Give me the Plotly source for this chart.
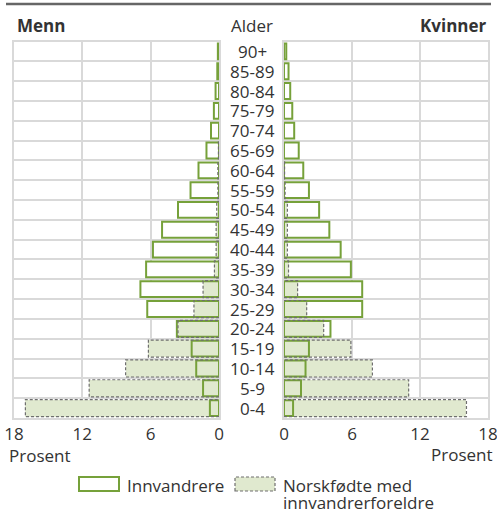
import plotly.graph_objects as go

W, H = 497, 510

# Data (percent), ordered from youngest to oldest
ages = ["0-4", "5-9", "10-14", "15-19", "20-24", "25-29", "30-34", "35-39",
        "40-44", "45-49", "50-54", "55-59", "60-64", "65-69", "70-74",
        "75-79", "80-84", "85-89", "90+"]
menn_innv = [0.8, 1.4, 2.0, 2.4, 3.7, 6.3, 6.9, 6.4, 5.8, 5.0, 3.6, 2.5,
             1.8, 1.1, 0.7, 0.45, 0.3, 0.15, 0.1]
menn_norsk = [17.0, 11.4, 8.2, 6.2, 3.6, 2.2, 1.4, 0.4, 0.25, 0.25, 0.2,
              0.1, 0.1, 0.05, 0.0, 0.0, 0.0, 0.0, 0.0]
kv_innv = [0.8, 1.5, 1.9, 2.2, 4.1, 6.9, 6.9, 5.9, 5.0, 4.0, 3.1, 2.2,
           1.7, 1.3, 0.9, 0.73, 0.55, 0.4, 0.2]
kv_norsk = [16.1, 11.0, 7.8, 5.9, 3.5, 2.0, 1.2, 0.4, 0.3, 0.3, 0.3, 0.1,
            0.05, 0.0, 0.0, 0.0, 0.0, 0.0, 0.0]
x_ticks = [0, 6, 12, 18]

GREEN = "#76a13a"
LIGHT = "#e0e9cf"
DASH_C = "#6f6f6f"
GRID = "#d9d9d9"
TXT = "#333333"
FONT = "Open Sans"

ypos = list(range(len(ages)))
W_INNV = 0.80
W_NORSK = 0.86


def px_x(p):
    return p / W


def px_y(p):
    return 1 - p / H


def dash_outline(vals, half):
    xs, ys = [], []
    for y, v in zip(ypos, vals):
        if v <= 0:
            continue
        xs += [0, v, v, 0, None]
        ys += [y - half, y - half, y + half, y + half, None]
    return xs, ys


fig = go.Figure()

for (innv, norsk, xa, ya) in [(menn_innv, menn_norsk, "x", "y"),
                              (kv_innv, kv_norsk, "x2", "y2")]:
    fig.add_trace(go.Bar(x=innv, y=ypos, orientation="h", width=W_INNV,
                         marker=dict(color="white", line=dict(width=0)),
                         xaxis=xa, yaxis=ya, showlegend=False, hoverinfo="skip"))
    fig.add_trace(go.Bar(x=norsk, y=ypos, orientation="h", width=W_NORSK,
                         marker=dict(color=LIGHT, line=dict(width=0)),
                         xaxis=xa, yaxis=ya, showlegend=False, hoverinfo="skip"))
    dx, dy = dash_outline(norsk, W_NORSK / 2)
    fig.add_trace(go.Scatter(x=dx, y=dy, mode="lines",
                             line=dict(color=DASH_C, width=1.2, dash="3px,2px"),
                             xaxis=xa, yaxis=ya, showlegend=False, hoverinfo="skip"))
    fig.add_trace(go.Bar(x=innv, y=ypos, orientation="h", width=W_INNV,
                         marker=dict(color="rgba(0,0,0,0)", line=dict(color=GREEN, width=2)),
                         xaxis=xa, yaxis=ya, showlegend=False, hoverinfo="skip"))

ydom = [px_y(418), px_y(41.5)]
yaxis_common = dict(range=[-0.5, len(ages) - 0.5], domain=ydom,
                    tickvals=[i - 0.5 for i in range(len(ages) + 1)],
                    showticklabels=False, showgrid=True, gridcolor=GRID, gridwidth=2,
                    zeroline=False, showline=True, mirror=True, linecolor=GRID,
                    linewidth=2, ticks="", fixedrange=True, automargin=False)
xaxis_common = dict(tickvals=x_ticks, ticktext=[str(t) for t in x_ticks],
                    showgrid=True, gridcolor=GRID, gridwidth=2,
                    zeroline=False, showline=True, mirror=True, linecolor=GRID,
                    linewidth=2, ticks="", automargin=False, fixedrange=True,
                    ticklabeloverflow="allow",
                    tickfont=dict(size=17, color=TXT, family=FONT))

fig.update_layout(
    width=W, height=H, margin=dict(l=0, r=0, t=0, b=0, pad=0, autoexpand=False),
    paper_bgcolor="white", plot_bgcolor="white",
    barmode="overlay", bargap=0,
    font=dict(family=FONT, color=TXT, size=17),
    xaxis=dict(domain=[px_x(14), px_x(219)], range=[18, 0], anchor="y", **xaxis_common),
    xaxis2=dict(domain=[px_x(284), px_x(488)], range=[0, 18], anchor="y2", **xaxis_common),
    yaxis=dict(anchor="x", **yaxis_common),
    yaxis2=dict(anchor="x2", matches="y", **yaxis_common),
)

ann = []
# age labels
for y, a in zip(ypos, ages):
    ann.append(dict(x=px_x(252), y=y, xref="paper", yref="y", text=a, showarrow=False,
                    xanchor="center", yanchor="middle", font=dict(size=17, color=TXT)))
ann += [
    dict(x=px_x(15), y=px_y(25), xref="paper", yref="paper", text="<b>Menn</b>",
         showarrow=False, xanchor="left", yanchor="middle", font=dict(size=17, color=TXT)),
    dict(x=px_x(489), y=px_y(25), xref="paper", yref="paper", text="<b>Kvinner</b>",
         showarrow=False, xanchor="right", yanchor="middle", font=dict(size=17, color=TXT)),
    dict(x=px_x(252), y=px_y(25), xref="paper", yref="paper", text="Alder",
         showarrow=False, xanchor="center", yanchor="middle", font=dict(size=17, color=TXT)),
    dict(x=px_x(7), y=px_y(455), xref="paper", yref="paper", text="Prosent",
         showarrow=False, xanchor="left", yanchor="middle", font=dict(size=17, color=TXT)),
    dict(x=px_x(495), y=px_y(454), xref="paper", yref="paper", text="Prosent",
         showarrow=False, xanchor="right", yanchor="middle", font=dict(size=17, color=TXT)),
    dict(x=px_x(125), y=px_y(485), xref="paper", yref="paper", text="Innvandrere",
         showarrow=False, xanchor="left", yanchor="middle", font=dict(size=17, color=TXT)),
    dict(x=px_x(281), y=px_y(485), xref="paper", yref="paper", text="Norskfødte med",
         showarrow=False, xanchor="left", yanchor="middle", font=dict(size=17, color=TXT)),
    dict(x=px_x(281), y=px_y(502), xref="paper", yref="paper", text="innvandrerforeldre",
         showarrow=False, xanchor="left", yanchor="middle", font=dict(size=17, color=TXT)),
]
for a in ann:
    a["font"]["family"] = FONT

shapes = [
    dict(type="line", xref="paper", yref="paper", x0=px_x(6), x1=px_x(491),
         y0=px_y(4), y1=px_y(4), line=dict(color="#666666", width=2.5)),
    dict(type="rect", xref="paper", yref="paper", x0=px_x(79), x1=px_x(119),
         y0=px_y(491), y1=px_y(477), fillcolor="white", line=dict(color=GREEN, width=2)),
    dict(type="rect", xref="paper", yref="paper", x0=px_x(235), x1=px_x(275),
         y0=px_y(491), y1=px_y(477), fillcolor=LIGHT,
         line=dict(color=DASH_C, width=1.2, dash="3px,2px")),
]

fig.update_layout(annotations=ann, shapes=shapes)
fig.write_html("out.html", config={"displayModeBar": False, "staticPlot": True},
               post_script="document.body.style.margin='0';document.body.style.overflow='hidden';")
